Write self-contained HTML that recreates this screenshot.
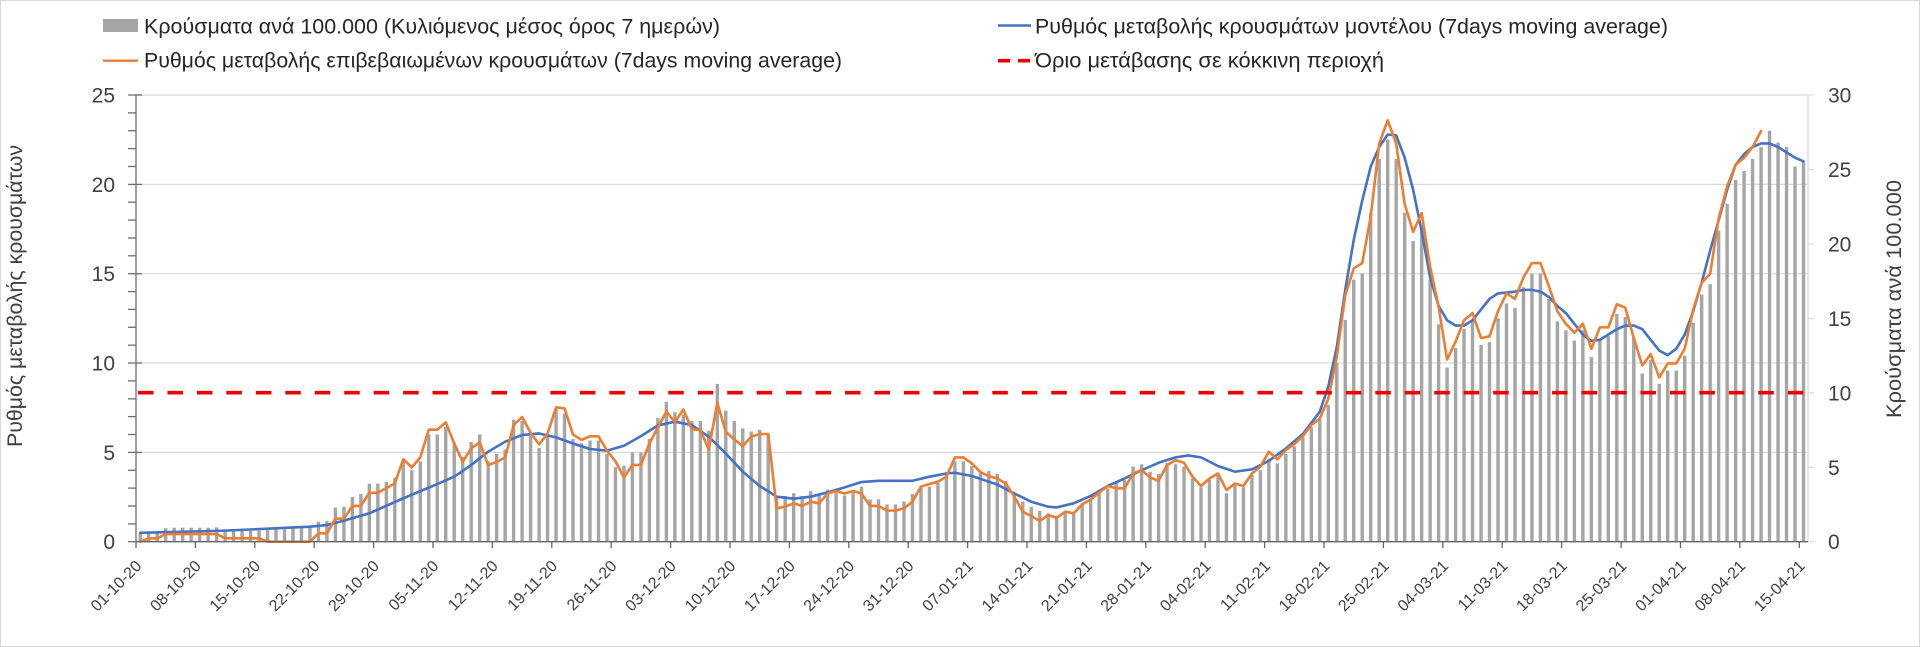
<!DOCTYPE html>
<html>
<head>
<meta charset="utf-8">
<style>
html,body{margin:0;padding:0;background:#fff;}
svg{display:block;}
text{font-family:"Liberation Sans",Arial,sans-serif;}
</style>
</head>
<body>
<svg width="1920" height="647" viewBox="0 0 1920 647" xmlns="http://www.w3.org/2000/svg">
<rect x="0" y="0" width="1920" height="647" fill="#fff"/>
<rect x="0.5" y="0.5" width="1919" height="646" fill="none" stroke="#d9d9d9" stroke-width="1"/>

<!-- gridlines -->
<g stroke="#d9d9d9" stroke-width="1.2">
<line x1="136" y1="95" x2="1814" y2="95"/>
<line x1="136" y1="184.4" x2="1808" y2="184.4"/>
<line x1="136" y1="273.7" x2="1808" y2="273.7"/>
<line x1="136" y1="363" x2="1808" y2="363"/>
<line x1="136" y1="452.4" x2="1808" y2="452.4"/>
</g>
<!-- right axis -->
<g stroke="#d9d9d9" stroke-width="1.2">
<line x1="1808" y1="95" x2="1808" y2="541.7"/>
<line x1="1808" y1="169.5" x2="1814" y2="169.5"/>
<line x1="1808" y1="244" x2="1814" y2="244"/>
<line x1="1808" y1="318.4" x2="1814" y2="318.4"/>
<line x1="1808" y1="392.9" x2="1814" y2="392.9"/>
<line x1="1808" y1="467.3" x2="1814" y2="467.3"/>
<line x1="1808" y1="541.7" x2="1814" y2="541.7"/>
</g>

<!-- bars (right axis) -->
<g transform="translate(136,541.7) scale(8.486,-14.89)">
<path fill="none" stroke="#a5a5a5" stroke-width="3.4" vector-effect="non-scaling-stroke" d="M0.5 0V0.6M1.5 0V0.6M2.5 0V0.6M3.5 0V0.9M4.5 0V0.94M5.5 0V0.94M6.5 0V0.94M7.5 0V0.94M8.5 0V0.94M9.5 0V0.96M10.5 0V0.7M11.5 0V0.74M12.5 0V0.74M13.5 0V0.74M14.5 0V0.74M15.5 0V0.78M16.5 0V0.83M17.5 0V0.83M18.5 0V0.9M19.5 0V0.9M20.5 0V0.96M21.5 0V1.34M22.5 0V1.39M23.5 0V2.3M24.5 0V2.35M25.5 0V3M26.5 0V3.2M27.5 0V3.9M28.5 0V3.9M29.5 0V4M30.5 0V4.3M31.5 0V5.5M32.5 0V4.8M33.5 0V5.4M34.5 0V7.2M35.5 0V7.2M36.5 0V7.7M37.5 0V6.6M38.5 0V5.7M39.5 0V6.7M40.5 0V7.2M41.5 0V5.4M42.5 0V5.9M43.5 0V6.2M44.5 0V8.2M45.5 0V8.1M46.5 0V7.1M47.5 0V6.3M48.5 0V7.1M49.5 0V8.9M50.5 0V8.6M51.5 0V6.9M52.5 0V6.6M53.5 0V6.8M54.5 0V6.8M55.5 0V5.9M56.5 0V5M57.5 0V5.1M58.5 0V6M59.5 0V6M60.5 0V6.9M61.5 0V8.3M62.5 0V9.4M63.5 0V8.7M64.5 0V8.55M65.5 0V8.1M66.5 0V8.1M67.5 0V7.45M68.5 0V10.6M69.5 0V8.8M70.5 0V8.1M71.5 0V7.6M72.5 0V7.4M73.5 0V7.5M74.5 0V7.2M75.5 0V3.07M76.5 0V3.07M77.5 0V3.25M78.5 0V3.07M79.5 0V3.4M80.5 0V3.1M81.5 0V3.5M82.5 0V3.3M83.5 0V3.1M84.5 0V3.3M85.5 0V3.7M86.5 0V2.84M87.5 0V2.84M88.5 0V2.5M89.5 0V2.5M90.5 0V2.7M91.5 0V3.2M92.5 0V3.6M93.5 0V3.7M94.5 0V3.96M95.5 0V4.5M96.5 0V5.4M97.5 0V5.4M98.5 0V5.1M99.5 0V4.6M100.5 0V4.75M101.5 0V4.55M102.5 0V4.07M103.5 0V3.13M104.5 0V2.69M105.5 0V2.35M106.5 0V2.06M107.5 0V1.9M108.5 0V1.75M109.5 0V2M110.5 0V1.9M111.5 0V2.57M112.5 0V2.9M113.5 0V3.25M114.5 0V3.58M115.5 0V4.03M116.5 0V4.14M117.5 0V5.04M118.5 0V5.2M119.5 0V4.7M120.5 0V4.55M121.5 0V5.3M122.5 0V5.2M123.5 0V5.04M124.5 0V4.25M125.5 0V3.65M126.5 0V4.14M127.5 0V4.6M128.5 0V3.25M129.5 0V3.8M130.5 0V3.65M131.5 0V4.48M132.5 0V4.8M133.5 0V5.53M134.5 0V5.26M135.5 0V5.9M136.5 0V6.4M137.5 0V7.05M138.5 0V7.7M139.5 0V8.26M140.5 0V9.2M141.5 0V12M142.5 0V14.9M143.5 0V17.6M144.5 0V18M145.5 0V22.1M146.5 0V25.7M147.5 0V27M148.5 0V25.7M149.5 0V22.1M150.5 0V20.2M151.5 0V21.3M152.5 0V17.6M153.5 0V14.6M154.5 0V11.7M155.5 0V13M156.5 0V14.3M157.5 0V14.9M158.5 0V13.2M159.5 0V13.4M160.5 0V15M161.5 0V16M162.5 0V15.7M163.5 0V17.1M164.5 0V18M165.5 0V18M166.5 0V16.3M167.5 0V14.8M168.5 0V14.2M169.5 0V13.5M170.5 0V14.2M171.5 0V12.4M172.5 0V13.5M173.5 0V13.8M174.5 0V15.3M175.5 0V15.1M176.5 0V13.7M177.5 0V11.3M178.5 0V12.2M179.5 0V10.6M180.5 0V11.5M181.5 0V11.5M182.5 0V12.5M183.5 0V14.7M184.5 0V16.6M185.5 0V17.3M186.5 0V20.9M187.5 0V22.7M188.5 0V24.3M189.5 0V24.9M190.5 0V25.7M191.5 0V26.5M192.5 0V27.6M193.5 0V26.8M194.5 0V26.5M195.5 0V25.2M196.5 0V25.5"/>
</g>

<!-- lines (left axis) -->
<g transform="translate(136,541.7) scale(8.486,-17.86)">
<polyline fill="none" stroke="#4472c4" stroke-width="2.6" stroke-linejoin="round" stroke-linecap="round" vector-effect="non-scaling-stroke" points="0.5,0.5 10.5,0.62 20.5,0.84 22.5,0.93 24.5,1.18 27.5,1.59 31.5,2.43 35.5,3.23 37.5,3.64 39.5,4.29 41.5,5.04 43.5,5.6 45.5,5.97 47.5,6.06 49.5,5.84 51.5,5.5 53.5,5.19 55.5,5.1 57.5,5.37 59.5,5.91 61.5,6.51 63.5,6.72 65.5,6.53 67.5,5.88 69.5,4.94 71.5,3.92 73.5,3.12 75.5,2.52 77.5,2.41 79.5,2.52 81.5,2.76 83.5,3.04 85.5,3.34 87.5,3.41 89.5,3.41 91.5,3.41 93.5,3.64 95.5,3.82 96.5,3.86 98.5,3.68 101.5,3.2 103.5,2.7 105.5,2.24 107.5,1.96 108.5,1.92 110.5,2.15 112.5,2.56 114.5,3.12 116.5,3.54 118.5,4 120.5,4.42 122.5,4.72 124,4.83 125.5,4.72 127.5,4.24 129.5,3.92 131.5,4.05 133.5,4.53 135.5,5.22 137.5,6.03 139.5,7.28 140.5,8.68 141.5,10.9 142.5,14.1 143.5,16.9 144.5,19.1 145.5,21 146.5,22.1 147.5,22.8 148.5,22.75 149.5,21.5 150.5,19.7 151.5,17.4 152.5,14.8 153.5,13.2 154.5,12.4 155.5,12.1 156.5,12.1 157.5,12.4 158.5,13 159.5,13.6 160.5,13.9 162.5,14 163.5,14.1 164.5,14.1 165.5,14 166.5,13.7 167.5,13.2 168.5,12.8 169.5,12.2 170.5,11.6 171.5,11.25 172.5,11.3 173.5,11.6 174.5,11.9 175.5,12.1 176.5,12.1 177.5,11.9 178.5,11.3 179.5,10.7 180.5,10.45 181.5,10.8 182.5,11.6 183.5,12.9 184.5,14.5 185.5,16.3 186.5,18 187.5,19.7 188.5,21.1 189.5,21.7 190.5,22.1 191.5,22.3 192.5,22.3 193.5,22.1 194.5,21.8 195.5,21.5 196.5,21.3"/>
<polyline fill="none" stroke="#ed7d31" stroke-width="2.6" stroke-linejoin="round" stroke-linecap="round" vector-effect="non-scaling-stroke" points="0.5,0 1.5,0.19 2.5,0.19 3.5,0.43 4.5,0.43 5.5,0.43 6.5,0.43 7.5,0.43 8.5,0.43 9.5,0.43 10.5,0.19 11.5,0.19 12.5,0.19 13.5,0.19 14.5,0.19 15.5,0 16.5,0 17.5,0 18.5,0 19.5,0 20.5,0 21.5,0.47 22.5,0.47 23.5,1.29 24.5,1.29 25.5,2 26.5,2 27.5,2.74 28.5,2.74 29.5,3 30.5,3.26 31.5,4.62 32.5,4.16 33.5,4.72 34.5,6.27 35.5,6.27 36.5,6.68 37.5,5.5 38.5,4.48 39.5,5.22 40.5,5.56 41.5,4.29 42.5,4.46 43.5,4.72 44.5,6.53 45.5,6.98 46.5,6.1 47.5,5.45 48.5,6.05 49.5,7.52 50.5,7.46 51.5,6 52.5,5.7 53.5,5.9 54.5,5.9 55.5,5.1 56.5,4.5 57.5,3.6 58.5,4.3 59.5,4.3 60.5,5.5 61.5,6.4 62.5,7.28 63.5,6.7 64.5,7.4 65.5,6.3 66.5,6.25 67.5,5.17 68.5,7.78 69.5,6.16 70.5,5.73 71.5,5.35 72.5,5.88 73.5,6.03 74.5,6.03 75.5,1.87 76.5,1.96 77.5,2.15 78.5,2 79.5,2.24 80.5,2.15 81.5,2.7 82.5,2.84 83.5,2.7 84.5,2.84 85.5,2.7 86.5,2 87.5,2 88.5,1.74 89.5,1.74 90.5,1.87 91.5,2.24 92.5,3.08 93.5,3.23 94.5,3.36 95.5,3.64 96.5,4.72 97.5,4.72 98.5,4.38 99.5,3.9 100.5,3.67 101.5,3.54 102.5,3.26 103.5,2.52 104.5,1.68 105.5,1.44 106.5,1.16 107.5,1.49 108.5,1.34 109.5,1.68 110.5,1.59 111.5,2.09 112.5,2.37 113.5,2.74 114.5,3.12 115.5,2.99 116.5,2.99 117.5,3.82 118.5,4.01 119.5,3.6 120.5,3.41 121.5,4.29 122.5,4.57 123.5,4.42 124.5,3.64 125.5,3.12 126.5,3.54 127.5,3.82 128.5,2.89 129.5,3.26 130.5,3.12 131.5,3.82 132.5,4.2 133.5,5.04 134.5,4.61 135.5,5.13 136.5,5.47 137.5,5.91 138.5,6.53 139.5,6.9 140.5,8 141.5,10.35 142.5,13.8 143.5,15.3 144.5,15.6 145.5,18.2 146.5,22.3 147.5,23.6 148.5,22.3 149.5,18.9 150.5,17.35 151.5,18.4 152.5,15.4 153.5,13.15 154.5,10.2 155.5,11.2 156.5,12.4 157.5,12.8 158.5,11.4 159.5,11.5 160.5,12.9 161.5,13.9 162.5,13.6 163.5,14.8 164.5,15.6 165.5,15.6 166.5,14.3 167.5,12.9 168.5,12.2 169.5,11.7 170.5,12.2 171.5,10.8 172.5,12 173.5,12 174.5,13.3 175.5,13.1 176.5,11.4 177.5,9.87 178.5,10.5 179.5,9.2 180.5,9.98 181.5,9.98 182.5,10.8 183.5,13 184.5,14.5 185.5,15 186.5,18.1 187.5,19.9 188.5,21.1 189.5,21.5 190.5,22.1 191.5,23"/>
</g>

<!-- red threshold -->
<line x1="138" y1="392.7" x2="1806" y2="392.7" stroke="#ee0000" stroke-width="3.6" stroke-dasharray="15.5 13.96"/>

<!-- left axis -->
<g stroke="#6e6e6e" stroke-width="1.3">
<line x1="136" y1="95" x2="136" y2="541.7"/>
<line x1="128" y1="95" x2="142" y2="95"/>
<line x1="128" y1="112.9" x2="136" y2="112.9"/>
<line x1="128" y1="130.7" x2="136" y2="130.7"/>
<line x1="128" y1="148.6" x2="136" y2="148.6"/>
<line x1="128" y1="166.5" x2="136" y2="166.5"/>
<line x1="128" y1="184.4" x2="142" y2="184.4"/>
<line x1="128" y1="202.2" x2="136" y2="202.2"/>
<line x1="128" y1="220.1" x2="136" y2="220.1"/>
<line x1="128" y1="238" x2="136" y2="238"/>
<line x1="128" y1="255.8" x2="136" y2="255.8"/>
<line x1="128" y1="273.7" x2="142" y2="273.7"/>
<line x1="128" y1="291.6" x2="136" y2="291.6"/>
<line x1="128" y1="309.4" x2="136" y2="309.4"/>
<line x1="128" y1="327.3" x2="136" y2="327.3"/>
<line x1="128" y1="345.2" x2="136" y2="345.2"/>
<line x1="128" y1="363" x2="142" y2="363"/>
<line x1="128" y1="380.9" x2="136" y2="380.9"/>
<line x1="128" y1="398.8" x2="136" y2="398.8"/>
<line x1="128" y1="416.6" x2="136" y2="416.6"/>
<line x1="128" y1="434.5" x2="136" y2="434.5"/>
<line x1="128" y1="452.4" x2="142" y2="452.4"/>
<line x1="128" y1="470.3" x2="136" y2="470.3"/>
<line x1="128" y1="488.1" x2="136" y2="488.1"/>
<line x1="128" y1="506" x2="136" y2="506"/>
<line x1="128" y1="523.9" x2="136" y2="523.9"/>
<line x1="128" y1="541.7" x2="136" y2="541.7"/>
</g>
<!-- x axis -->
<g stroke="#666" stroke-width="1.3">
<line x1="136" y1="541.7" x2="1808" y2="541.7"/>
<line x1="136" y1="541.7" x2="136" y2="548"/>
<line x1="195.4" y1="541.7" x2="195.4" y2="548"/>
<line x1="254.8" y1="541.7" x2="254.8" y2="548"/>
<line x1="314.2" y1="541.7" x2="314.2" y2="548"/>
<line x1="373.6" y1="541.7" x2="373.6" y2="548"/>
<line x1="433" y1="541.7" x2="433" y2="548"/>
<line x1="492.4" y1="541.7" x2="492.4" y2="548"/>
<line x1="551.8" y1="541.7" x2="551.8" y2="548"/>
<line x1="611.2" y1="541.7" x2="611.2" y2="548"/>
<line x1="670.6" y1="541.7" x2="670.6" y2="548"/>
<line x1="730" y1="541.7" x2="730" y2="548"/>
<line x1="789.4" y1="541.7" x2="789.4" y2="548"/>
<line x1="848.8" y1="541.7" x2="848.8" y2="548"/>
<line x1="908.2" y1="541.7" x2="908.2" y2="548"/>
<line x1="967.6" y1="541.7" x2="967.6" y2="548"/>
<line x1="1027" y1="541.7" x2="1027" y2="548"/>
<line x1="1086.4" y1="541.7" x2="1086.4" y2="548"/>
<line x1="1145.8" y1="541.7" x2="1145.8" y2="548"/>
<line x1="1205.2" y1="541.7" x2="1205.2" y2="548"/>
<line x1="1264.6" y1="541.7" x2="1264.6" y2="548"/>
<line x1="1324" y1="541.7" x2="1324" y2="548"/>
<line x1="1383.4" y1="541.7" x2="1383.4" y2="548"/>
<line x1="1442.8" y1="541.7" x2="1442.8" y2="548"/>
<line x1="1502.2" y1="541.7" x2="1502.2" y2="548"/>
<line x1="1561.6" y1="541.7" x2="1561.6" y2="548"/>
<line x1="1621.1" y1="541.7" x2="1621.1" y2="548"/>
<line x1="1680.5" y1="541.7" x2="1680.5" y2="548"/>
<line x1="1739.9" y1="541.7" x2="1739.9" y2="548"/>
<line x1="1799.3" y1="541.7" x2="1799.3" y2="548"/>
</g>

<!-- left tick labels -->
<g font-size="21" fill="#404040" text-anchor="end">
<text x="115" y="102.5">25</text>
<text x="115" y="191.9">20</text>
<text x="115" y="281.2">15</text>
<text x="115" y="370.5">10</text>
<text x="115" y="459.9">5</text>
<text x="115" y="549.2">0</text>
</g>
<!-- right tick labels -->
<g font-size="21" fill="#404040" text-anchor="start">
<text x="1828" y="102.5">30</text>
<text x="1828" y="177">25</text>
<text x="1828" y="251.5">20</text>
<text x="1828" y="325.9">15</text>
<text x="1828" y="400.4">10</text>
<text x="1828" y="474.8">5</text>
<text x="1828" y="549.2">0</text>
</g>

<!-- date labels -->
<g font-size="16" fill="#404040" text-anchor="end">
<text transform="translate(142.5,567) rotate(-45)">01-10-20</text>
<text transform="translate(201.9,567) rotate(-45)">08-10-20</text>
<text transform="translate(261.3,567) rotate(-45)">15-10-20</text>
<text transform="translate(320.7,567) rotate(-45)">22-10-20</text>
<text transform="translate(380.1,567) rotate(-45)">29-10-20</text>
<text transform="translate(439.5,567) rotate(-45)">05-11-20</text>
<text transform="translate(498.9,567) rotate(-45)">12-11-20</text>
<text transform="translate(558.3,567) rotate(-45)">19-11-20</text>
<text transform="translate(617.7,567) rotate(-45)">26-11-20</text>
<text transform="translate(677.1,567) rotate(-45)">03-12-20</text>
<text transform="translate(736.5,567) rotate(-45)">10-12-20</text>
<text transform="translate(795.9,567) rotate(-45)">17-12-20</text>
<text transform="translate(855.3,567) rotate(-45)">24-12-20</text>
<text transform="translate(914.7,567) rotate(-45)">31-12-20</text>
<text transform="translate(974.1,567) rotate(-45)">07-01-21</text>
<text transform="translate(1033.5,567) rotate(-45)">14-01-21</text>
<text transform="translate(1092.9,567) rotate(-45)">21-01-21</text>
<text transform="translate(1152.3,567) rotate(-45)">28-01-21</text>
<text transform="translate(1211.7,567) rotate(-45)">04-02-21</text>
<text transform="translate(1271.1,567) rotate(-45)">11-02-21</text>
<text transform="translate(1330.5,567) rotate(-45)">18-02-21</text>
<text transform="translate(1389.9,567) rotate(-45)">25-02-21</text>
<text transform="translate(1449.3,567) rotate(-45)">04-03-21</text>
<text transform="translate(1508.7,567) rotate(-45)">11-03-21</text>
<text transform="translate(1568.1,567) rotate(-45)">18-03-21</text>
<text transform="translate(1627.6,567) rotate(-45)">25-03-21</text>
<text transform="translate(1687,567) rotate(-45)">01-04-21</text>
<text transform="translate(1746.4,567) rotate(-45)">08-04-21</text>
<text transform="translate(1805.8,567) rotate(-45)">15-04-21</text>
</g>

<!-- axis titles -->
<text font-size="21" fill="#404040" text-anchor="middle" transform="translate(22,296) rotate(-90)" textLength="302" lengthAdjust="spacingAndGlyphs">Ρυθμός μεταβολής κρουσμάτων</text>
<text font-size="21" fill="#404040" text-anchor="middle" transform="translate(1901,299) rotate(-90)" textLength="238" lengthAdjust="spacingAndGlyphs">Κρούσματα ανά 100.000</text>

<!-- legend -->
<rect x="103" y="19" width="35" height="13" fill="#a5a5a5"/>
<line x1="103" y1="60.7" x2="138" y2="60.7" stroke="#ed7d31" stroke-width="2.4"/>
<line x1="998" y1="25.5" x2="1031" y2="25.5" stroke="#4472c4" stroke-width="2.4"/>
<line x1="998" y1="60.7" x2="1031" y2="60.7" stroke="#ee0000" stroke-width="3.6" stroke-dasharray="12 8"/>
<g font-size="21" fill="#262626">
<text x="144" y="33.3" textLength="576" lengthAdjust="spacingAndGlyphs">Κρούσματα ανά 100.000 (Κυλιόμενος μέσος όρος 7 ημερών)</text>
<text x="144" y="67.7" textLength="698" lengthAdjust="spacingAndGlyphs">Ρυθμός μεταβολής επιβεβαιωμένων κρουσμάτων (7days moving average)</text>
<text x="1035" y="33.3" textLength="633" lengthAdjust="spacingAndGlyphs">Ρυθμός μεταβολής κρουσμάτων μοντέλου (7days moving average)</text>
<text x="1035" y="67.7" textLength="349" lengthAdjust="spacingAndGlyphs">Όριο μετάβασης σε κόκκινη περιοχή</text>
</g>
</svg>
</body>
</html>
